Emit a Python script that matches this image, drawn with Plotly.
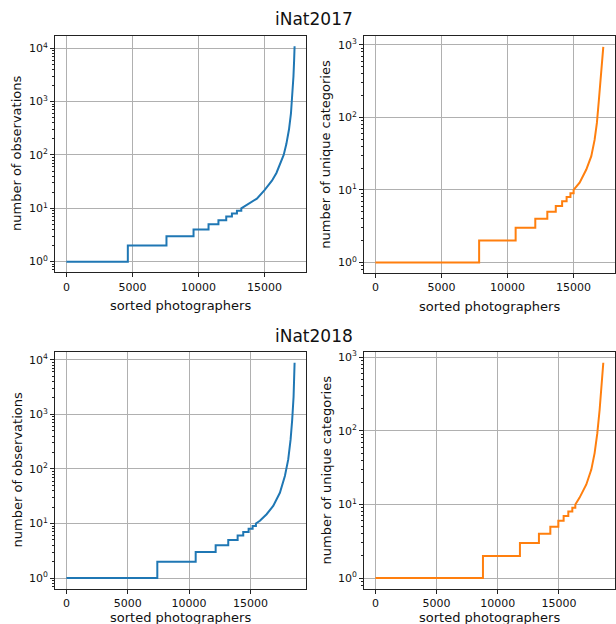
import numpy as np
import plotly.graph_objects as go

# ---------------- data ----------------
# iNat2017 - number of observations per photographer (sorted)
obs17_step_x = [0, 4650, 7575, 9625, 10760, 11510, 12100, 12530, 12910, 13240]
obs17_step_y = [1, 2, 3, 4, 5, 6, 7, 8, 9, 10]
obs17_curve_x = [13670, 14420, 15000, 15560, 15900, 16200, 16450, 16650, 16850, 17000, 17110, 17190, 17240, 17275]
obs17_curve_y = [11.5, 15.2, 21.9, 33, 46, 68, 100, 160, 300, 600, 1300, 3000, 6000, 10900]

# iNat2017 - number of unique categories per photographer (sorted)
cat17_step_x = [0, 7850, 10613, 12100, 13010, 13650, 14130, 14470, 14760, 15000]
cat17_step_y = [1, 2, 3, 4, 5, 6, 7, 8, 9, 10]
cat17_curve_x = [15454, 15960, 16338, 16588, 16762, 16913, 17042, 17140, 17247]
cat17_curve_y = [12.6, 19.1, 29.2, 49, 84, 174, 365, 615, 940]

# iNat2018 - number of observations
obs18_step_x = [0, 7410, 10537, 12166, 13192, 13958, 14414, 14853, 15179, 15448]
obs18_step_y = [1, 2, 3, 4, 5, 6, 7, 8, 9, 10]
obs18_curve_x = [15774, 16319, 16857, 17402, 17809, 18079, 18274, 18404, 18518, 18600]
obs18_curve_y = [11.2, 14.8, 21, 36.6, 74, 148, 343, 791, 2100, 8800]

# iNat2018 - number of unique categories
cat18_step_x = [0, 8791, 11814, 13366, 14297, 14951, 15384, 15768, 16095, 16340]
cat18_step_y = [1, 2, 3, 4, 5, 6, 7, 8, 9, 10]
cat18_curve_x = [16691, 17239, 17647, 17917, 18137, 18325, 18464, 18546, 18627]
cat18_curve_y = [12.4, 18.7, 29.8, 49.9, 93, 192, 395, 597, 841]

titles = ["iNat2017", "iNat2018"]
xlabel = "sorted photographers"
ylabels = ["number of observations", "number of unique categories"]
xtick_vals = [0, 5000, 10000, 15000]
xtick_text = ["0", "5000", "10000", "15000"]

BLUE = "#1f77b4"
ORANGE = "#ff7f0e"
W, H = 616, 624
FONT = "DejaVu Sans"


def build_path(sx, sy, cx, cy):
    xs, ys = [], []
    for i in range(len(sx)):
        xs.append(sx[i]); ys.append(sy[i])
        nxt = sx[i + 1] if i + 1 < len(sx) else None
        if nxt is not None:
            xs.append(nxt); ys.append(sy[i])
    xs += cx
    ys += cy
    return xs, ys


panels = [
    # (step_x, step_y, curve_x, curve_y, color, ylabel, px box [l, r, t, b], xlabel offset)
    (obs17_step_x, obs17_step_y, obs17_curve_x, obs17_curve_y, BLUE, ylabels[0], (55, 306, 32.7, 270.7), 33),
    (cat17_step_x, cat17_step_y, cat17_curve_x, cat17_curve_y, ORANGE, ylabels[1], (364, 614.7, 33.3, 271.5), 33),
    (obs18_step_x, obs18_step_y, obs18_curve_x, obs18_curve_y, BLUE, ylabels[0], (55, 306, 350.7, 588.7), 28.5),
    (cat18_step_x, cat18_step_y, cat18_curve_x, cat18_curve_y, ORANGE, ylabels[1], (364, 614.7, 350.7, 588.7), 28.5),
]

fig = go.Figure()
annotations = []
layout = {}
for k, (sx, sy, cx, cy, col, ylab, box, xoff) in enumerate(panels):
    n = "" if k == 0 else str(k + 1)
    xs, ys = build_path(sx, sy, cx, cy)
    fig.add_trace(go.Scatter(x=xs, y=ys, mode="lines",
                             line=dict(color=col, width=2),
                             xaxis="x" + n, yaxis="y" + n, showlegend=False,
                             hoverinfo="skip"))
    l, r, t, b = box
    xmax = max(xs)
    ymax = max(ys)
    L = np.log10(ymax)
    ndec = int(np.floor(L + 0.05 * L))
    yv = [10 ** i for i in range(ndec + 1)]
    yt = ["10<sup>%d</sup>" % i for i in range(ndec + 1)]
    minor_vals = [m * 10 ** i for i in range(-1, ndec + 1) for m in range(2, 10)]
    common = dict(showline=True, linecolor="#222222", linewidth=1, mirror=True,
                  ticks="outside", ticklen=4, tickcolor="#222222", tickwidth=1,
                  showgrid=True, gridcolor="#b0b0b0", gridwidth=1,
                  zeroline=False, tickfont=dict(family=FONT, size=11, color="#111111"))
    layout["xaxis" + n] = dict(common, domain=[l / W, r / W],
                               anchor="y" + n, range=[-0.05 * xmax, 1.05 * xmax],
                               tickmode="array", tickvals=xtick_vals, ticktext=xtick_text)
    layout["yaxis" + n] = dict(common, domain=[1 - b / H, 1 - t / H],
                               anchor="x" + n, type="log",
                               range=[-0.05 * L, 1.05 * L],
                               tickmode="array", tickvals=yv, ticktext=yt,
                               minor=dict(tickmode="array", tickvals=minor_vals,
                                          ticks="outside", ticklen=2, tickcolor="#222222",
                                          showgrid=False))
    # axis titles as annotations
    annotations.append(dict(text=xlabel, xref="paper", yref="paper",
                            x=(l + r) / 2 / W, y=1 - (b + xoff) / H,
                            xanchor="center", yanchor="middle", showarrow=False,
                            font=dict(family=FONT, size=13, color="#111111")))
    annotations.append(dict(text=ylab, xref="paper", yref="paper",
                            x=(l - 38) / W, y=1 - (t + b) / 2 / H,
                            xanchor="center", yanchor="middle", textangle=-90,
                            showarrow=False,
                            font=dict(family=FONT, size=13, color="#111111")))

for i, ttl in enumerate(titles):
    annotations.append(dict(text=ttl, xref="paper", yref="paper",
                            x=314 / W, y=1 - (16 + 319 * i) / H,
                            xanchor="center", yanchor="middle", showarrow=False,
                            font=dict(family=FONT, size=17, color="#111111")))

fig.update_layout(width=W, height=H, margin=dict(l=0, r=0, t=0, b=0),
                  paper_bgcolor="white", plot_bgcolor="white",
                  annotations=annotations, **layout)
fig.write_html("out.html", config={"displayModeBar": False},
               post_script="document.body.style.margin='0';document.body.style.overflow='hidden';")
